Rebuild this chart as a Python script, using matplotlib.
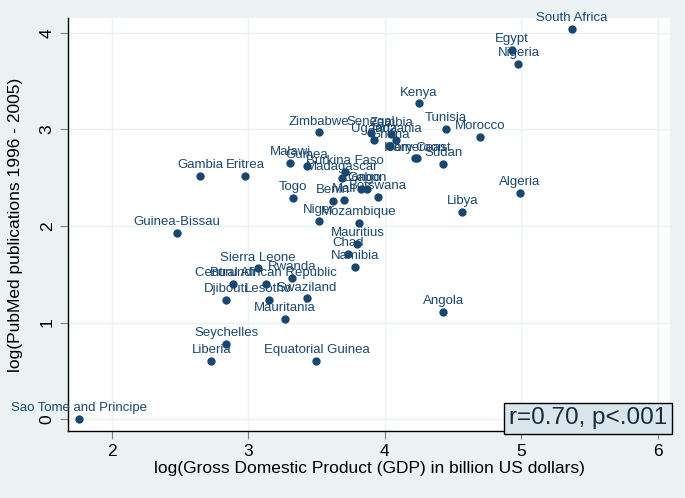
import matplotlib.pyplot as plt

plt.rcParams['font.family'] = ['Liberation Sans', 'DejaVu Sans']

# country, log GDP, log publications
countries = ['South Africa', 'Egypt', 'Nigeria', 'Kenya', 'Tunisia', 'Morocco',
             'Zimbabwe', 'Senegal', 'Uganda', 'Zambia', 'Tanzania', 'Ghana',
             'Cameroon', 'Ivory Coast', 'Sudan', 'Malawi', 'Guinea', 'Gambia',
             'Eritrea', 'Burkina Faso', 'Madagascar', 'Congo', 'Gabon', 'Botswana',
             'Benin', 'Mali', 'Togo', 'Niger', 'Mozambique', 'Algeria', 'Libya',
             'Guinea-Bissau', 'Mauritius', 'Chad', 'Namibia', 'Sierra Leone',
             'Rwanda', 'Central African Republic', 'Burundi', 'Djibouti', 'Lesotho',
             'Swaziland', 'Mauritania', 'Angola', 'Seychelles', 'Liberia',
             'Equatorial Guinea', 'Sao Tome and Principe']
gdp = [5.37, 4.93, 4.98, 4.25, 4.45, 4.70,
       3.52, 3.90, 3.92, 4.05, 4.08, 4.04,
       4.22, 4.24, 4.43, 3.31, 3.43, 2.65,
       2.98, 3.71, 3.69, 3.83, 3.87, 3.95,
       3.62, 3.70, 3.33, 3.52, 3.81, 4.99, 4.57,
       2.48, 3.80, 3.73, 3.78, 3.07,
       3.32, 3.13, 2.89, 2.84, 3.15,
       3.43, 3.27, 4.43, 2.84, 2.73,
       3.50, 1.76]
pubs = [4.04, 3.82, 3.68, 3.27, 3.01, 2.92,
        2.97, 2.96, 2.89, 2.95, 2.89, 2.83,
        2.70, 2.70, 2.64, 2.65, 2.62, 2.52,
        2.52, 2.56, 2.50, 2.38, 2.38, 2.30,
        2.26, 2.27, 2.29, 2.05, 2.03, 2.34, 2.15,
        1.93, 1.81, 1.71, 1.58, 1.56,
        1.46, 1.40, 1.40, 1.23, 1.23,
        1.25, 1.04, 1.11, 0.78, 0.60,
        0.60, 0.00]

navy = '#1a476f'
bg = '#eaf2f3'

fig = plt.figure(figsize=(6.85, 4.98), dpi=100, facecolor=bg)
ax = fig.add_axes([0.0993, 0.1345, 0.8787, 0.8294])
ax.set_facecolor('white')

ax.scatter(gdp, pubs, s=36, color=navy, zorder=3, linewidths=0)
for name, gx, py in zip(countries, gdp, pubs):
    ax.annotate(name, (gx, py), xytext=(0, 3.5), textcoords='offset points',
                ha='center', va='bottom', fontsize=9.5, color=navy, zorder=4,
                annotation_clip=False)

ax.set_xlim(1.68, 6.09)
ax.set_ylim(-0.124, 4.155)
ax.set_xticks([2, 3, 4, 5, 6])
ax.set_yticks([0, 1, 2, 3, 4])
ax.grid(True, color=bg, linewidth=1.0, zorder=0)
ax.set_axisbelow(True)
for side in ['top', 'right']:
    ax.spines[side].set_visible(False)
for side in ['left', 'bottom']:
    ax.spines[side].set_color('black')
    ax.spines[side].set_linewidth(1.0)
ax.tick_params(direction='out', length=6, color='#808080', labelsize=12.5)
plt.setp(ax.get_yticklabels(), rotation=90, va='center')

ax.set_xlabel('log(Gross Domestic Product (GDP) in billion US dollars)', fontsize=12.5, labelpad=1)
ax.set_ylabel('log(PubMed publications 1996 - 2005)', fontsize=12.5, labelpad=12)

ax.text(0.995, 0.004, 'r=0.70, p<.001', transform=ax.transAxes, ha='right', va='bottom',
        fontsize=17.5, color='#1a2a3a', zorder=5,
        bbox=dict(boxstyle='square,pad=0.2', facecolor='#d9e6ec', edgecolor='black', linewidth=1))

fig.savefig('out.png', dpi=100, facecolor=bg)
